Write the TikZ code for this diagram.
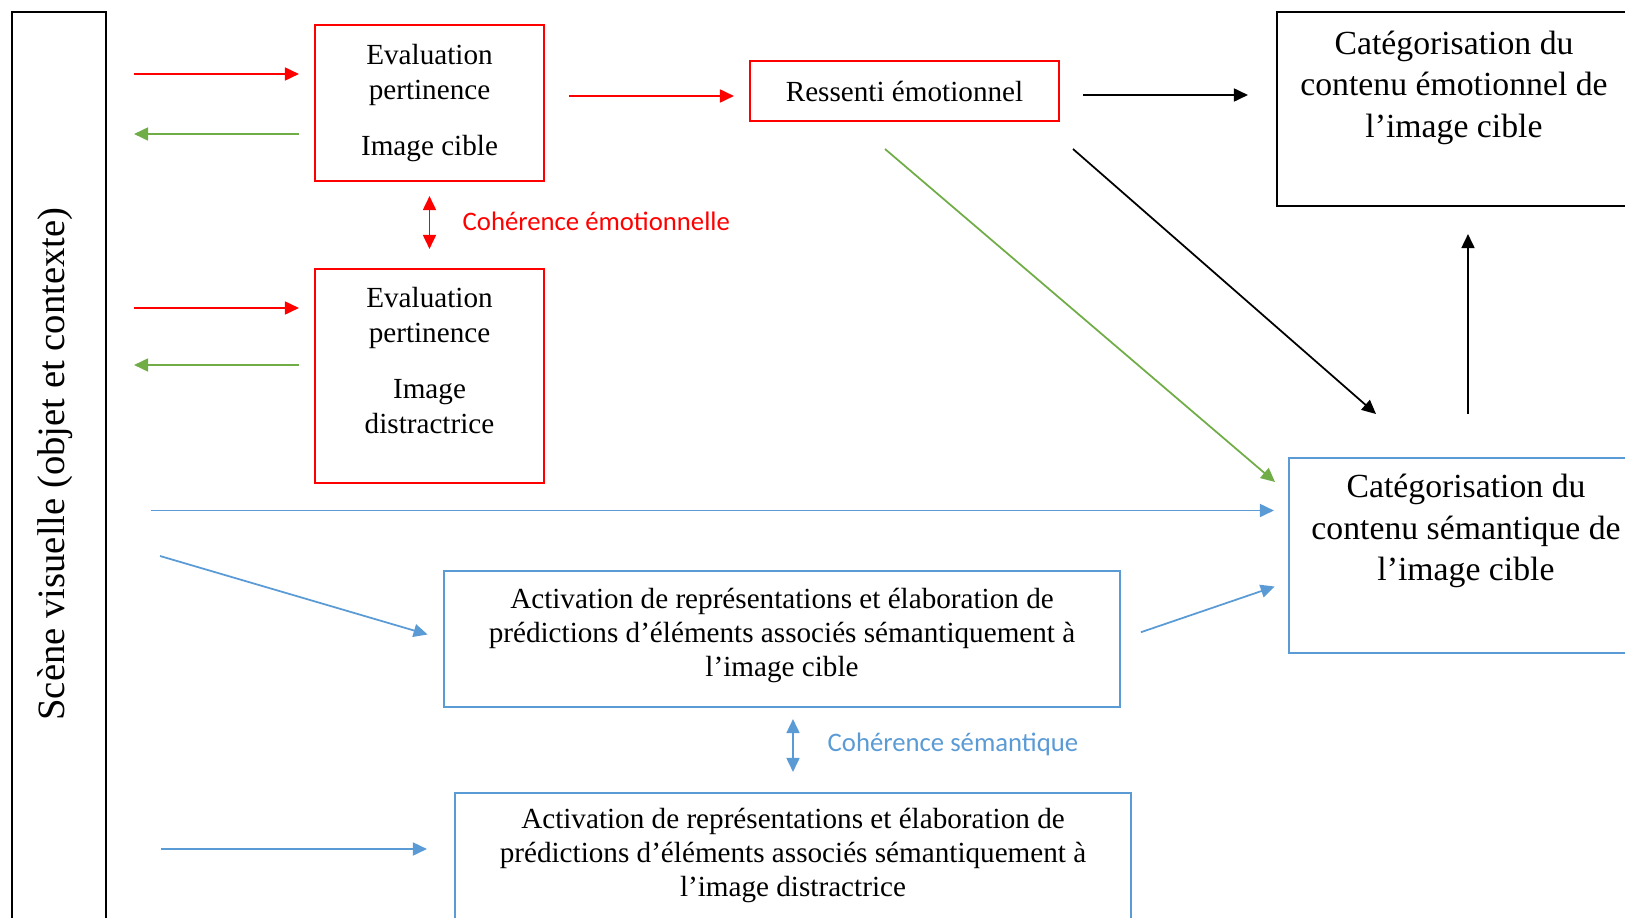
\documentclass[tikz,border=0pt]{standalone}
\usepackage{fontspec}
\setmainfont{Liberation Serif}
\newfontfamily\calibri{Carlito}
\usetikzlibrary{arrows.meta}
\definecolor{emored}{RGB}{255,0,0}
\definecolor{evalgreen}{RGB}{112,173,71}
\definecolor{semblue}{RGB}{91,155,213}
\begin{document}
\begin{tikzpicture}[
    box/.style={draw, line width=0.6pt, align=center, inner sep=0pt},
    redbox/.style={box, draw=emored},
    bluebox/.style={box, draw=semblue},
    blackbox/.style={box, draw=black},
    evalfont/.style={font=\fontsize{8.3}{10}\selectfont},
    actfont/.style={font=\fontsize{8.3}{9.7}\selectfont},
    catfont/.style={font=\fontsize{9.6}{11.8}\selectfont},
    arr/.style={line width=0.5pt, -{Triangle[length=1.4mm,width=1.3mm]}},
    dblarr/.style={line width=0.5pt, {Triangle[length=1.4mm,width=1.3mm]}-{Triangle[length=1.4mm,width=1.3mm]}},
    cohlabel/.style={anchor=west, inner sep=0pt, font=\calibri\fontsize{7.6}{9}\selectfont}
  ]
  \useasboundingbox (0,0) rectangle (16.25,9.17);
  \clip (0,0) rectangle (16.25,9.17);

  % boites
  \node[blackbox, minimum width=0.94cm, minimum height=9.55cm] (scene) at (0.59,4.275) {};
  \node[rotate=90, font=\fontsize{11}{13}\selectfont] (scenetxt) at (0.55,4.53) {Scène visuelle (objet et contexte)};

  \node[redbox, evalfont, minimum width=2.29cm, minimum height=1.56cm] (eval1) at (4.295,8.14)
    {Evaluation\\pertinence\\[6pt]Image cible};
  \node[redbox, evalfont, minimum width=2.29cm, minimum height=2.14cm] (eval2) at (4.295,5.41)
    {Evaluation\\pertinence\\[6pt]Image\\distractrice\\[-1pt]\mbox{}};
  \node[redbox, evalfont, minimum width=3.09cm, minimum height=0.6cm] (ressenti) at (9.045,8.26)
    {Ressenti émotionnel};

  \node[blackbox, catfont, minimum width=3.54cm, minimum height=1.94cm] (emo) at (14.54,8.08)
    {Catégorisation du\\contenu émotionnel de\\l’image cible\\[2.5pt]\mbox{}};
  \node[bluebox, catfont, minimum width=3.54cm, minimum height=1.95cm] (sem) at (14.66,3.615)
    {Catégorisation du\\contenu sémantique de\\l’image cible\\[4pt]\mbox{}};

  \node[bluebox, actfont, minimum width=6.76cm, minimum height=1.36cm] (act1) at (7.82,2.78)
    {Activation de représentations et élaboration de\\prédictions d’éléments associés sémantiquement à\\l’image cible\\[-6pt]\mbox{}};
  \node[bluebox, actfont, minimum width=6.76cm, minimum height=1.42cm] (act2) at (7.93,0.53)
    {Activation de représentations et élaboration de\\prédictions d’éléments associés sémantiquement à\\l’image distractrice\\[-3pt]\mbox{}};

  \node[cohlabel, text=emored] (cohemo) at (4.62,6.96) {Cohérence émotionnelle};
  \node[cohlabel, text=semblue] (cohsem) at (8.27,1.73) {Cohérence sémantique};

  % extremites libres
  \coordinate (r1) at ([yshift=0.29cm]eval1.west);
  \coordinate (g1) at ([yshift=-0.31cm]eval1.west);
  \coordinate (r2) at ([yshift=0.68cm]eval2.west);
  \coordinate (g2) at ([yshift=0.11cm]eval2.west);
  \coordinate (rs) at ([yshift=-0.05cm]ressenti.west);
  \coordinate (re) at ([yshift=-0.04cm]ressenti.east);
  \coordinate (b0) at ([yshift=0.45cm]sem.west);
  \coordinate (b3) at ([yshift=-0.265cm]sem.west);
  \coordinate (b4) at ([yshift=0.15cm]act2.west);
  \coordinate (gs) at (8.85,7.68);
  \coordinate (ge) at (12.75,4.35);
  \coordinate (ks) at (10.73,7.68);
  \coordinate (ke) at (13.76,5.03);
  \coordinate (bs) at (1.60,3.61);

  % fleches rouges et vertes
  \begin{scope}[arr]
    \draw[emored, shorten <=0.27cm, shorten >=0.15cm] (scene.east |- r1) to (r1);
    \draw[evalgreen, shorten <=0.15cm, shorten >=0.27cm] (g1) to (scene.east |- g1);
    \draw[emored, shorten <=0.27cm, shorten >=0.15cm] (scene.east |- r2) to (r2);
    \draw[evalgreen, shorten <=0.15cm, shorten >=0.27cm] (g2) to (scene.east |- g2);
    \draw[emored, shorten <=0.24cm, shorten >=0.15cm] (eval1.east |- rs) to (rs);
    \draw[evalgreen] (gs) to (ge);
  \end{scope}
  \draw[dblarr, emored, shorten <=0.14cm, shorten >=0.19cm] (eval1.south) to (eval2.north);

  % fleches noires
  \begin{scope}[arr, black]
    \draw[shorten <=0.23cm, shorten >=0.28cm] (re) to (emo.west |- re);
    \draw (ks) to (ke);
    \draw[shorten <=0.43cm, shorten >=0.27cm] ([xshift=0.02cm]sem.north) to ([xshift=0.02cm]sem.north |- emo.south);
  \end{scope}

  % fleches bleues
  \begin{scope}[arr, semblue]
    \draw[shorten <=0.44cm, shorten >=0.14cm] (scene.east |- b0) to (b0);
    \draw[shorten >=0.16cm] (bs) to (act1.west);
    \draw[shorten <=0.21cm, shorten >=0.14cm] (act1.east) to (b3);
    \draw[shorten <=0.54cm, shorten >=0.27cm] (scene.east |- b4) to (b4);
  \end{scope}
  \draw[dblarr, semblue, shorten <=0.11cm, shorten >=0.2cm] (act1.south -| act2.north) to (act2.north);
\end{tikzpicture}
\end{document}
